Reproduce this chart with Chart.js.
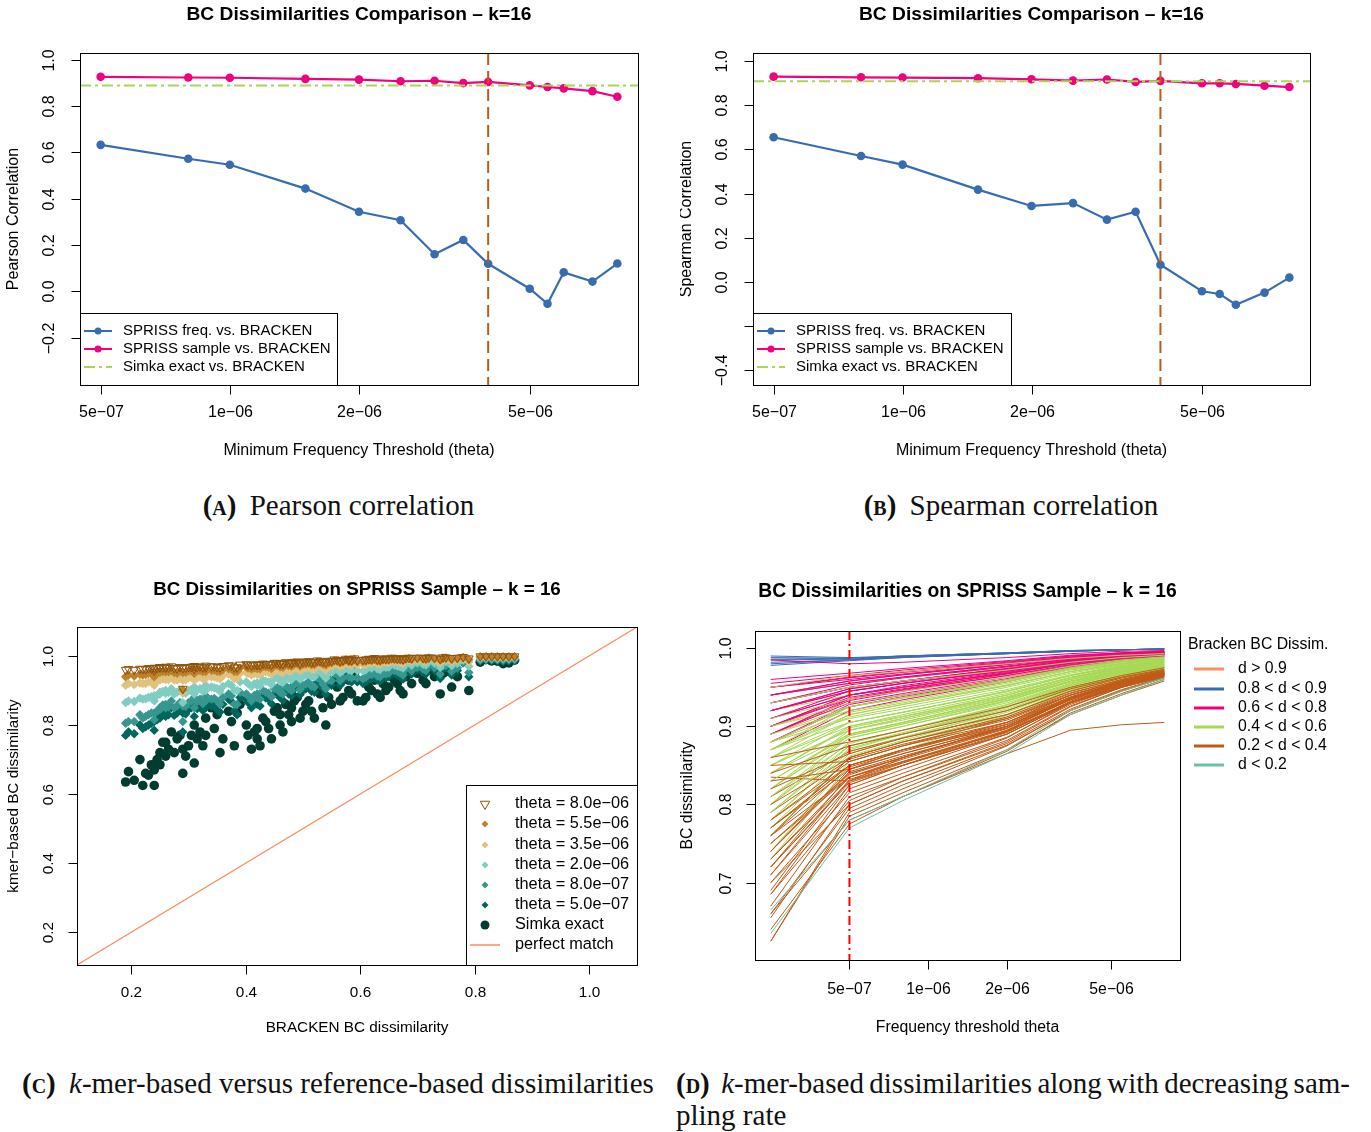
<!DOCTYPE html>
<html>
<head>
<meta charset="utf-8">
<title>BC dissimilarities, k=16</title>
<script src="https://cdn.jsdelivr.net/npm/chart.js@4.4.1/dist/chart.umd.min.js"></script>
<style>
  body { margin: 0; background: #fff; }
  #page { position: relative; width: 1371px; height: 1132px; overflow: hidden; }
  #page canvas { position: absolute; }
  .cap { position: absolute; font-family: "Liberation Serif", "Times New Roman", serif; font-size: 29px; line-height: 32px; color: #111; white-space: nowrap; }
  .cap b { font-variant: small-caps; margin-right: 6px; }
</style>
</head>
<body>
<div id="page">
  <canvas id="pearson" width="680" height="470" style="left:0px;top:0px"></canvas>
  <canvas id="spearman" width="691" height="470" style="left:680px;top:0px"></canvas>
  <canvas id="scatter" width="680" height="490" style="left:0px;top:560px"></canvas>
  <canvas id="curves" width="691" height="490" style="left:680px;top:560px"></canvas>
  <div class="cap" style="left:0px;width:677px;top:489px;text-align:center"><b>(a)</b> Pearson correlation</div>
  <div class="cap" style="left:680px;width:662px;top:489px;text-align:center"><b>(b)</b> Spearman correlation</div>
  <div class="cap" style="left:22px;top:1067px"><b>(c)</b> <i>k</i>-mer-based versus reference-based dissimilarities</div>
  <div class="cap" style="left:676px;width:674px;top:1067px;word-spacing:-3px;text-align:justify;text-align-last:justify"><b>(d)</b> <i>k</i>-mer-based dissimilarities along with decreasing sam-</div>
  <div class="cap" style="left:676px;top:1099px">pling rate</div>
</div>
<script>
var FONT = '"Liberation Sans", Arial, sans-serif';

// ---- correlation of SPRISS / Simka dissimilarities with BRACKEN, per theta ----
var thetas = [5e-7, 8e-7, 1e-6, 1.5e-6, 2e-6, 2.5e-6, 3e-6, 3.5e-6, 4e-6, 5e-6, 5.5e-6, 6e-6, 7e-6, 8e-6];
var pearsonFreq = [0.633, 0.573, 0.547, 0.444, 0.344, 0.307, 0.160, 0.222, 0.119, 0.011, -0.054, 0.082, 0.042, 0.120];
var pearsonSample = [0.927, 0.924, 0.923, 0.918, 0.915, 0.908, 0.910, 0.900, 0.905, 0.890, 0.883, 0.877, 0.865, 0.841];
var pearsonSimka = 0.890;
var spearmanFreq = [0.655, 0.570, 0.531, 0.418, 0.344, 0.357, 0.282, 0.318, 0.078, -0.042, -0.054, -0.103, -0.048, 0.020];
var spearmanSample = [0.929, 0.926, 0.925, 0.922, 0.917, 0.911, 0.916, 0.905, 0.910, 0.899, 0.899, 0.896, 0.888, 0.882];
var spearmanSimka = 0.908;
var chosenTheta = 4e-6;

var thetaTicks = [5e-7, 1e-6, 2e-6, 5e-6];
var thetaTickLabels = ['5e\u221207', '1e\u221206', '2e\u221206', '5e\u221206'];

// ---- per sample pair: BRACKEN dissimilarity and k-mer based dissimilarities ----
// first block grouped by BRACKEN class (d<0.2 | 0.2-0.4 | 0.4-0.6 | 0.6-0.8 | 0.8-0.9),
// second block holds the remaining pairs in the same class order
var brackenD = [0.19, 0.195,
  0.22, 0.23, 0.24, 0.24, 0.25, 0.25, 0.26, 0.26, 0.27, 0.28, 0.29, 0.29, 0.30, 0.31, 0.31, 0.32, 0.33, 0.33, 0.34, 0.35, 0.36, 0.37, 0.38, 0.39,
  0.401, 0.404, 0.41, 0.42, 0.42, 0.43, 0.44, 0.45, 0.46, 0.46, 0.47, 0.48, 0.48, 0.49, 0.50, 0.51, 0.52, 0.53, 0.54, 0.55, 0.56, 0.57, 0.58, 0.58, 0.59, 0.595,
  0.61, 0.62, 0.63, 0.64, 0.65, 0.66, 0.67, 0.68, 0.69, 0.70, 0.71, 0.72, 0.73, 0.74, 0.75, 0.76, 0.78, 0.79,
  0.82, 0.84, 0.85, 0.87,
  0.205, 0.215, 0.225, 0.235, 0.245, 0.255, 0.265, 0.275, 0.285, 0.295, 0.305, 0.315, 0.325, 0.345, 0.355, 0.375, 0.385,
  0.415, 0.425, 0.435, 0.445, 0.455, 0.465, 0.475, 0.485, 0.495, 0.505, 0.515, 0.525, 0.535, 0.545, 0.555, 0.565, 0.575, 0.585,
  0.605, 0.615, 0.625, 0.635, 0.645, 0.655, 0.665, 0.675, 0.685, 0.715, 0.745, 0.77,
  0.81, 0.83, 0.86];
var simkaExact = [0.635, 0.665,
  0.625, 0.655, 0.67, 0.625, 0.685, 0.72, 0.71, 0.75, 0.78, 0.76, 0.66, 0.73, 0.74, 0.80, 0.69, 0.78, 0.82, 0.77, 0.85, 0.83, 0.76, 0.84, 0.74, 0.86,
  0.80, 0.77, 0.73, 0.76, 0.79, 0.82, 0.79, 0.84, 0.83, 0.80, 0.86, 0.85, 0.81, 0.88, 0.84, 0.87, 0.82, 0.89, 0.80, 0.86, 0.91, 0.88, 0.93, 0.90, 0.95, 0.87,
  0.88, 0.90, 0.89, 0.92, 0.91, 0.93, 0.90, 0.94, 0.92, 0.95, 0.93, 0.96, 0.94, 0.89, 0.955, 0.91, 0.985, 0.90,
  0.99, 0.985, 0.978, 0.988,
  0.64, 0.70, 0.66, 0.685, 0.70, 0.75, 0.73, 0.72, 0.77, 0.71, 0.77, 0.76, 0.74, 0.79, 0.72, 0.81, 0.835,
  0.78, 0.74, 0.81, 0.76, 0.85, 0.78, 0.83, 0.87, 0.82, 0.86, 0.84, 0.90, 0.85, 0.88, 0.92, 0.87, 0.94, 0.89,
  0.87, 0.91, 0.93, 0.88, 0.90, 0.94, 0.92, 0.89, 0.95, 0.92, 0.95, 0.94,
  0.982, 0.986, 0.98];
var theta5e7 = [0.77, 0.78,
  0.79, 0.80, 0.81, 0.785, 0.82, 0.83, 0.825, 0.84, 0.85, 0.835, 0.78, 0.835, 0.845, 0.86, 0.825, 0.855, 0.865, 0.85, 0.855, 0.845, 0.86, 0.875, 0.84, 0.88,
  0.875, 0.865, 0.85, 0.86, 0.87, 0.885, 0.875, 0.89, 0.888, 0.88, 0.90, 0.895, 0.885, 0.91, 0.90, 0.912, 0.895, 0.92, 0.89, 0.915, 0.935, 0.925, 0.95, 0.93, 0.965, 0.925,
  0.925, 0.935, 0.93, 0.945, 0.94, 0.95, 0.94, 0.955, 0.948, 0.96, 0.953, 0.968, 0.958, 0.935, 0.965, 0.945, 0.98, 0.94,
  0.988, 0.986, 0.984, 0.987,
  0.775, 0.80, 0.795, 0.805, 0.815, 0.835, 0.83, 0.828, 0.845, 0.832, 0.85, 0.848, 0.842, 0.858, 0.838, 0.868, 0.83,
  0.868, 0.855, 0.878, 0.862, 0.895, 0.872, 0.89, 0.905, 0.888, 0.905, 0.898, 0.925, 0.905, 0.918, 0.94, 0.915, 0.955, 0.925,
  0.92, 0.94, 0.95, 0.928, 0.937, 0.955, 0.945, 0.933, 0.962, 0.948, 0.963, 0.958,
  0.985, 0.987, 0.985];
var theta8e7 = [0.805, 0.81,
  0.82, 0.83, 0.835, 0.815, 0.845, 0.85, 0.85, 0.86, 0.87, 0.855, 0.81, 0.855, 0.865, 0.88, 0.85, 0.875, 0.885, 0.87, 0.875, 0.87, 0.88, 0.89, 0.86, 0.895,
  0.89, 0.885, 0.87, 0.88, 0.89, 0.90, 0.892, 0.905, 0.903, 0.895, 0.913, 0.91, 0.90, 0.922, 0.915, 0.925, 0.91, 0.932, 0.905, 0.928, 0.945, 0.937, 0.958, 0.94, 0.97, 0.937,
  0.938, 0.946, 0.942, 0.955, 0.95, 0.958, 0.95, 0.963, 0.957, 0.967, 0.962, 0.974, 0.966, 0.947, 0.972, 0.955, 0.982, 0.952,
  0.99, 0.989, 0.988, 0.99,
  0.81, 0.83, 0.825, 0.835, 0.84, 0.858, 0.853, 0.85, 0.865, 0.854, 0.87, 0.868, 0.862, 0.877, 0.86, 0.885, 0.86,
  0.886, 0.875, 0.895, 0.882, 0.908, 0.89, 0.905, 0.918, 0.903, 0.918, 0.912, 0.936, 0.918, 0.93, 0.95, 0.928, 0.962, 0.937,
  0.934, 0.95, 0.958, 0.94, 0.948, 0.963, 0.955, 0.945, 0.969, 0.958, 0.97, 0.966,
  0.988, 0.99, 0.989];
var theta2e6 = [0.865, 0.87,
  0.875, 0.88, 0.885, 0.87, 0.89, 0.895, 0.892, 0.90, 0.905, 0.895, 0.865, 0.893, 0.90, 0.91, 0.89, 0.905, 0.915, 0.90, 0.91, 0.905, 0.912, 0.92, 0.90, 0.925,
  0.925, 0.92, 0.912, 0.915, 0.922, 0.93, 0.925, 0.935, 0.933, 0.928, 0.94, 0.938, 0.932, 0.947, 0.942, 0.95, 0.94, 0.955, 0.936, 0.952, 0.963, 0.958, 0.972, 0.96, 0.98, 0.958,
  0.96, 0.965, 0.963, 0.971, 0.968, 0.974, 0.969, 0.977, 0.973, 0.98, 0.976, 0.984, 0.979, 0.967, 0.983, 0.972, 0.988, 0.97,
  0.994, 0.993, 0.993, 0.994,
  0.868, 0.878, 0.876, 0.882, 0.886, 0.897, 0.894, 0.89, 0.90, 0.893, 0.903, 0.902, 0.898, 0.908, 0.898, 0.915, 0.90,
  0.92, 0.914, 0.927, 0.918, 0.937, 0.924, 0.935, 0.944, 0.933, 0.945, 0.94, 0.957, 0.945, 0.953, 0.966, 0.952, 0.975, 0.958,
  0.957, 0.968, 0.974, 0.961, 0.967, 0.977, 0.971, 0.965, 0.981, 0.974, 0.982, 0.979,
  0.993, 0.994, 0.993];
var theta35e6 = [0.915, 0.92,
  0.92, 0.925, 0.93, 0.915, 0.93, 0.935, 0.932, 0.935, 0.94, 0.93, 0.895, 0.93, 0.937, 0.942, 0.93, 0.94, 0.945, 0.935, 0.94, 0.937, 0.943, 0.948, 0.935, 0.95,
  0.952, 0.95, 0.945, 0.947, 0.95, 0.955, 0.953, 0.958, 0.957, 0.955, 0.962, 0.96, 0.957, 0.966, 0.963, 0.968, 0.962, 0.972, 0.96, 0.97, 0.977, 0.974, 0.982, 0.975, 0.987, 0.974,
  0.976, 0.979, 0.978, 0.983, 0.981, 0.985, 0.982, 0.986, 0.984, 0.988, 0.986, 0.991, 0.988, 0.981, 0.99, 0.984, 0.993, 0.983,
  0.997, 0.996, 0.996, 0.997,
  0.917, 0.922, 0.92, 0.926, 0.928, 0.934, 0.932, 0.93, 0.936, 0.931, 0.938, 0.937, 0.934, 0.94, 0.934, 0.945, 0.935,
  0.949, 0.946, 0.954, 0.948, 0.96, 0.952, 0.958, 0.965, 0.957, 0.965, 0.962, 0.973, 0.965, 0.97, 0.979, 0.97, 0.984, 0.974,
  0.975, 0.981, 0.985, 0.977, 0.98, 0.987, 0.983, 0.979, 0.989, 0.985, 0.99, 0.988,
  0.996, 0.997, 0.996];
var theta55e6 = [0.94, 0.945,
  0.945, 0.95, 0.952, 0.94, 0.953, 0.955, 0.954, 0.957, 0.958, 0.95, 0.902, 0.952, 0.957, 0.96, 0.95, 0.958, 0.962, 0.955, 0.958, 0.956, 0.96, 0.963, 0.955, 0.965,
  0.968, 0.965, 0.962, 0.964, 0.966, 0.97, 0.968, 0.972, 0.971, 0.969, 0.975, 0.974, 0.97, 0.978, 0.976, 0.979, 0.975, 0.981, 0.974, 0.98, 0.985, 0.983, 0.988, 0.984, 0.991, 0.983,
  0.985, 0.987, 0.986, 0.989, 0.988, 0.99, 0.989, 0.991, 0.99, 0.993, 0.991, 0.994, 0.992, 0.988, 0.994, 0.99, 0.996, 0.99,
  0.998, 0.998, 0.998, 0.998,
  0.942, 0.947, 0.946, 0.95, 0.951, 0.955, 0.954, 0.952, 0.956, 0.953, 0.957, 0.957, 0.955, 0.959, 0.955, 0.962, 0.955,
  0.965, 0.963, 0.969, 0.964, 0.973, 0.967, 0.972, 0.977, 0.971, 0.977, 0.975, 0.982, 0.977, 0.98, 0.986, 0.98, 0.989, 0.983,
  0.984, 0.988, 0.99, 0.985, 0.988, 0.991, 0.989, 0.987, 0.993, 0.99, 0.994, 0.992,
  0.998, 0.998, 0.998];
var theta8e6 = [0.96, 0.962,
  0.962, 0.965, 0.966, 0.958, 0.967, 0.968, 0.966, 0.969, 0.97, 0.964, 0.905, 0.965, 0.968, 0.971, 0.963, 0.97, 0.972, 0.967, 0.97, 0.968, 0.971, 0.973, 0.967, 0.975,
  0.976, 0.975, 0.973, 0.974, 0.976, 0.978, 0.977, 0.98, 0.979, 0.978, 0.982, 0.981, 0.979, 0.984, 0.983, 0.985, 0.982, 0.986, 0.982, 0.986, 0.989, 0.988, 0.991, 0.988, 0.993, 0.988,
  0.99, 0.991, 0.99, 0.993, 0.992, 0.994, 0.993, 0.994, 0.994, 0.995, 0.995, 0.996, 0.995, 0.992, 0.996, 0.994, 0.997, 0.993,
  0.999, 0.999, 0.999, 0.999,
  0.96, 0.963, 0.962, 0.964, 0.965, 0.967, 0.967, 0.965, 0.968, 0.966, 0.969, 0.968, 0.967, 0.97, 0.967, 0.972, 0.967,
  0.975, 0.974, 0.977, 0.975, 0.98, 0.977, 0.98, 0.983, 0.979, 0.984, 0.982, 0.987, 0.984, 0.986, 0.99, 0.986, 0.992, 0.988,
  0.989, 0.992, 0.994, 0.99, 0.992, 0.995, 0.993, 0.991, 0.995, 0.994, 0.996, 0.995,
  0.999, 0.999, 0.999];

// x positions of the columns above in the curve panel (exact values sit left of 5e-07)
var curveThetas = [2.5e-7, 5e-7, 8e-7, 2e-6, 3.5e-6, 5.5e-6, 8e-6];
var curveColumns = [simkaExact, theta5e7, theta8e7, theta2e6, theta35e6, theta55e6, theta8e6];

var BLUE = '#386CB0', PINK = '#F0027F', LIME = '#A6D854', RUST = '#BF5B17', TEAL = '#66C2A5', SALMON = '#FC8D62';
var DOTDASH = [11, 4, 3, 4];

function series(xv, yv) {
  return xv.map(function (x, i) { return { x: x, y: yv[i] }; });
}

// R-style log axis limits: data range widened by 4% on each side
function logLimits(vals) {
  var lo = Math.log10(Math.min.apply(null, vals)), hi = Math.log10(Math.max.apply(null, vals));
  var pad = (hi - lo) * 0.04;
  return { min: Math.pow(10, lo - pad), max: Math.pow(10, hi + pad) };
}

function classColour(d) {
  if (d > 0.9) return SALMON;
  if (d > 0.8) return BLUE;
  if (d > 0.6) return PINK;
  if (d > 0.4) return LIME;
  if (d > 0.2) return RUST;
  return TEAL;
}

function drawLegend(ctx, lg) {
  ctx.save();
  if (lg.box) {
    ctx.fillStyle = '#fff';
    ctx.fillRect(lg.box[0], lg.box[1], lg.box[2] - lg.box[0], lg.box[3] - lg.box[1]);
    ctx.strokeStyle = '#000'; ctx.lineWidth = 1;
    ctx.strokeRect(lg.box[0] + 0.5, lg.box[1] + 0.5, lg.box[2] - lg.box[0], lg.box[3] - lg.box[1]);
  }
  ctx.font = lg.fontSize + 'px ' + FONT;
  ctx.textAlign = 'left'; ctx.textBaseline = 'middle'; ctx.fillStyle = '#000';
  if (lg.heading) ctx.fillText(lg.heading.text, lg.heading.x, lg.heading.y);
  lg.items.forEach(function (it, i) {
    var y = lg.rowY[i];
    if (it.line) {
      ctx.beginPath();
      ctx.strokeStyle = it.line.color; ctx.lineWidth = it.line.width;
      ctx.setLineDash(it.line.dash || []);
      ctx.moveTo(lg.symX - lg.lineHalf, y); ctx.lineTo(lg.symX + lg.lineHalf, y);
      ctx.stroke();
      ctx.setLineDash([]);
    }
    if (it.point) {
      var p = it.point;
      ctx.fillStyle = p.open ? 'rgba(0,0,0,0)' : p.color;
      ctx.strokeStyle = p.color; ctx.lineWidth = 1;
      Chart.helpers.drawPoint(ctx, { pointStyle: p.style, radius: p.radius, rotation: p.rotation || 0, borderWidth: p.open ? 1 : 0 }, lg.symX, y);
    }
    ctx.fillStyle = '#000';
    ctx.fillText(it.label, lg.textX, y);
  });
  ctx.restore();
}

// box, outward ticks, rotated y labels, titles and legend in the look of base R graphics
function frame(spec) {
  return {
    id: 'rFrame',
    afterDatasetsDraw: function (chart) {
      var ctx = chart.ctx, a = chart.chartArea;
      var xs = chart.scales.x, ys = chart.scales.y;
      var L = Math.round(a.left) + 0.5, R = Math.round(a.right) + 0.5;
      var T = Math.round(a.top) + 0.5, B = Math.round(a.bottom) + 0.5;

      ctx.save();
      ctx.beginPath(); ctx.rect(a.left, a.top, a.right - a.left, a.bottom - a.top); ctx.clip();
      (spec.refLines || []).forEach(function (r) {
        ctx.beginPath();
        ctx.strokeStyle = r.color; ctx.lineWidth = r.width; ctx.setLineDash(r.dash || []);
        if (r.y !== undefined) {
          var py = ys.getPixelForValue(r.y);
          ctx.moveTo(a.left, py); ctx.lineTo(a.right, py);
        } else if (r.x !== undefined) {
          var px = xs.getPixelForValue(r.x);
          ctx.moveTo(px, a.top); ctx.lineTo(px, a.bottom);
        } else {
          var lo = Math.min(xs.min, ys.min), hi = Math.max(xs.max, ys.max);
          ctx.moveTo(xs.getPixelForValue(lo), ys.getPixelForValue(lo));
          ctx.lineTo(xs.getPixelForValue(hi), ys.getPixelForValue(hi));
        }
        ctx.stroke();
      });
      ctx.restore();

      ctx.save();
      ctx.strokeStyle = '#000'; ctx.lineWidth = 1; ctx.setLineDash([]);
      ctx.strokeRect(L, T, R - L, B - T);
      ctx.fillStyle = '#000';
      ctx.font = spec.fontSize + 'px ' + FONT;
      ctx.textAlign = 'center'; ctx.textBaseline = 'middle';
      spec.xTicks.forEach(function (v, i) {
        var px = Math.round(xs.getPixelForValue(v)) + 0.5;
        ctx.beginPath(); ctx.moveTo(px, B); ctx.lineTo(px, B + 9); ctx.stroke();
        ctx.fillText(spec.xLabels[i], px, a.bottom + spec.xLabelOff);
      });
      spec.yTicks.forEach(function (v, i) {
        var py = Math.round(ys.getPixelForValue(v)) + 0.5;
        ctx.beginPath(); ctx.moveTo(L, py); ctx.lineTo(L - 9, py); ctx.stroke();
        ctx.save();
        ctx.translate(a.left - spec.yLabelOff, py); ctx.rotate(-Math.PI / 2);
        ctx.fillText(spec.yLabels[i], 0, 0);
        ctx.restore();
      });
      ctx.fillText(spec.xTitle, (a.left + a.right) / 2, a.bottom + spec.xTitleOff);
      ctx.save();
      ctx.translate(a.left - spec.yTitleOff, (a.top + a.bottom) / 2); ctx.rotate(-Math.PI / 2);
      ctx.fillText(spec.yTitle, 0, 0);
      ctx.restore();
      ctx.font = 'bold ' + spec.titleSize + 'px ' + FONT;
      ctx.fillText(spec.title, (a.left + a.right) / 2, spec.titleY);
      ctx.restore();

      if (spec.legend) drawLegend(ctx, spec.legend);
    }
  };
}

function panel(id, pad, datasets, xScale, yScale, spec) {
  return new Chart(document.getElementById(id), {
    type: 'line',
    data: { datasets: datasets },
    options: {
      responsive: false, animation: false, devicePixelRatio: 1, events: [],
      layout: { padding: pad },
      plugins: { legend: { display: false }, tooltip: { enabled: false }, title: { display: false } },
      scales: {
        x: Object.assign({ display: false, bounds: 'data' }, xScale),
        y: Object.assign({ display: false, bounds: 'data' }, yScale)
      }
    },
    plugins: [frame(spec)]
  });
}

function corrLine(yv, colour) {
  return {
    data: series(thetas, yv), borderColor: colour, backgroundColor: colour,
    borderWidth: 2.2, pointRadius: 4.3, pointBorderWidth: 0, tension: 0
  };
}

function corrLegend(left, right) {
  return {
    box: [left, 313, right, 385], symX: left + 18, lineHalf: 14, textX: left + 43,
    rowY: [331, 349, 367], fontSize: 15,
    items: [
      { label: 'SPRISS freq. vs. BRACKEN', line: { color: BLUE, width: 2 }, point: { style: 'circle', radius: 3.5, color: BLUE } },
      { label: 'SPRISS sample vs. BRACKEN', line: { color: PINK, width: 2 }, point: { style: 'circle', radius: 3.5, color: PINK } },
      { label: 'Simka exact vs. BRACKEN', line: { color: LIME, width: 2, dash: DOTDASH } }
    ]
  };
}

var thetaLim = logLimits(thetas);

// (a) Pearson
panel('pearson', { left: 80, top: 53, right: 42, bottom: 85 },
  [corrLine(pearsonFreq, BLUE), corrLine(pearsonSample, PINK)],
  { type: 'logarithmic', min: thetaLim.min, max: thetaLim.max },
  { type: 'linear', min: -0.405, max: 1.03 },
  {
    title: 'BC Dissimilarities Comparison \u2013 k=16', titleY: 15, titleSize: 19.2, fontSize: 16,
    xTicks: thetaTicks, xLabels: thetaTickLabels,
    yTicks: [-0.2, 0, 0.2, 0.4, 0.6, 0.8, 1.0],
    yLabels: ['\u22120.2', '0.0', '0.2', '0.4', '0.6', '0.8', '1.0'],
    xTitle: 'Minimum Frequency Threshold (theta)', yTitle: 'Pearson Correlation',
    xLabelOff: 28, xTitleOff: 66, yLabelOff: 30, yTitleOff: 66,
    refLines: [
      { y: pearsonSimka, color: LIME, width: 2, dash: DOTDASH },
      { x: chosenTheta, color: RUST, width: 2, dash: [12, 6] }
    ],
    legend: corrLegend(80, 337)
  });

// (b) Spearman
panel('spearman', { left: 73, top: 53, right: 61, bottom: 85 },
  [corrLine(spearmanFreq, BLUE), corrLine(spearmanSample, PINK)],
  { type: 'logarithmic', min: thetaLim.min, max: thetaLim.max },
  { type: 'linear', min: -0.466, max: 1.036 },
  {
    title: 'BC Dissimilarities Comparison \u2013 k=16', titleY: 15, titleSize: 19.2, fontSize: 16,
    xTicks: thetaTicks, xLabels: thetaTickLabels,
    yTicks: [-0.4, -0.2, 0, 0.2, 0.4, 0.6, 0.8, 1.0],
    yLabels: ['\u22120.4', '', '0.0', '0.2', '0.4', '0.6', '0.8', '1.0'],
    xTitle: 'Minimum Frequency Threshold (theta)', yTitle: 'Spearman Correlation',
    xLabelOff: 28, xTitleOff: 66, yLabelOff: 30, yTitleOff: 66,
    refLines: [
      { y: spearmanSimka, color: LIME, width: 2, dash: DOTDASH },
      { x: chosenTheta, color: RUST, width: 2, dash: [12, 6] }
    ],
    legend: corrLegend(73, 331)
  });

// (c) k-mer based vs BRACKEN, one point per sample pair and threshold
var scatterSeries = [
  { label: 'theta = 8.0e\u221206', values: theta8e6, style: 'triangle', rotation: 180, colour: '#8C510A', open: true, r: 5, lr: 5.5 },
  { label: 'theta = 5.5e\u221206', values: theta55e6, style: 'rectRot', colour: '#BF812D', r: 4.7, lr: 3.5 },
  { label: 'theta = 3.5e\u221206', values: theta35e6, style: 'rectRot', colour: '#DFC27D', r: 4.7, lr: 3.5 },
  { label: 'theta = 2.0e\u221206', values: theta2e6, style: 'rectRot', colour: '#80CDC1', r: 4.7, lr: 3.5 },
  { label: 'theta = 8.0e\u221207', values: theta8e7, style: 'rectRot', colour: '#35978F', r: 4.7, lr: 3.5 },
  { label: 'theta = 5.0e\u221207', values: theta5e7, style: 'rectRot', colour: '#01665E', r: 4.7, lr: 3.5 },
  { label: 'Simka exact', values: simkaExact, style: 'circle', colour: '#003C30', r: 4.8, lr: 4.5 }
];

var scatterItems = scatterSeries.map(function (s) {
  return { label: s.label, point: { style: s.style, rotation: s.rotation, radius: s.lr, color: s.colour, open: s.open } };
});
scatterItems.push({ label: 'perfect match', line: { color: SALMON, width: 1.5 } });

panel('scatter', { left: 77, top: 67, right: 43, bottom: 85 },
  scatterSeries.map(function (s) {
    return {
      data: series(brackenD, s.values), showLine: false,
      pointStyle: s.style, pointRotation: s.rotation || 0, pointRadius: s.r,
      pointBackgroundColor: s.open ? 'rgba(0,0,0,0)' : s.colour,
      pointBorderColor: s.colour, pointBorderWidth: s.open ? 1 : 0
    };
  }),
  { type: 'linear', min: 0.105, max: 1.084 },
  { type: 'linear', min: 0.105, max: 1.084 },
  {
    title: 'BC Dissimilarities on SPRISS Sample \u2013 k = 16', titleY: 30, titleSize: 18.8, fontSize: 15.3,
    xTicks: [0.2, 0.4, 0.6, 0.8, 1.0], xLabels: ['0.2', '0.4', '0.6', '0.8', '1.0'],
    yTicks: [0.2, 0.4, 0.6, 0.8, 1.0], yLabels: ['0.2', '0.4', '0.6', '0.8', '1.0'],
    xTitle: 'BRACKEN BC dissimilarity', yTitle: 'kmer\u2212based BC dissimilarity',
    xLabelOff: 28, xTitleOff: 63, yLabelOff: 28, yTitleOff: 63,
    refLines: [{ diagonal: true, color: SALMON, width: 1.2 }],
    legend: {
      box: [466, 225, 637, 405], symX: 485, lineHalf: 15, textX: 515, fontSize: 16.3,
      rowY: [244, 264, 285, 305, 325, 345, 365, 385],
      items: scatterItems
    }
  });

// (d) one line per sample pair across thresholds, coloured by BRACKEN class
var curveLim = logLimits(curveThetas);
panel('curves', { left: 75, top: 71, right: 191, bottom: 90 },
  brackenD.map(function (d, i) {
    return {
      data: curveThetas.map(function (t, k) { return { x: t, y: curveColumns[k][i] }; }),
      borderColor: classColour(d), borderWidth: 1, pointRadius: 0, tension: 0
    };
  }),
  { type: 'logarithmic', min: curveLim.min, max: curveLim.max },
  { type: 'linear', min: 0.601, max: 1.022 },
  {
    title: 'BC Dissimilarities on SPRISS Sample \u2013 k = 16', titleY: 32, titleSize: 19.3, fontSize: 15.8,
    xTicks: thetaTicks, xLabels: thetaTickLabels,
    yTicks: [0.7, 0.8, 0.9, 1.0], yLabels: ['0.7', '0.8', '0.9', '1.0'],
    xTitle: 'Frequency threshold theta', yTitle: 'BC dissimilarity',
    xLabelOff: 30, xTitleOff: 68, yLabelOff: 28, yTitleOff: 67,
    refLines: [{ x: 5e-7, color: '#FF0000', width: 2, dash: [9, 4, 2, 4] }],
    legend: {
      heading: { text: 'Bracken BC Dissim.', x: 508, y: 85 },
      symX: 529, lineHalf: 15, textX: 558, fontSize: 15.8,
      rowY: [109, 129, 148, 167, 186, 205],
      items: [
        { label: 'd > 0.9', line: { color: SALMON, width: 3 } },
        { label: '0.8 < d < 0.9', line: { color: BLUE, width: 3 } },
        { label: '0.6 < d < 0.8', line: { color: PINK, width: 3 } },
        { label: '0.4 < d < 0.6', line: { color: LIME, width: 3 } },
        { label: '0.2 < d < 0.4', line: { color: RUST, width: 3 } },
        { label: 'd < 0.2', line: { color: TEAL, width: 3 } }
      ]
    }
  });
</script>
</body>
</html>
